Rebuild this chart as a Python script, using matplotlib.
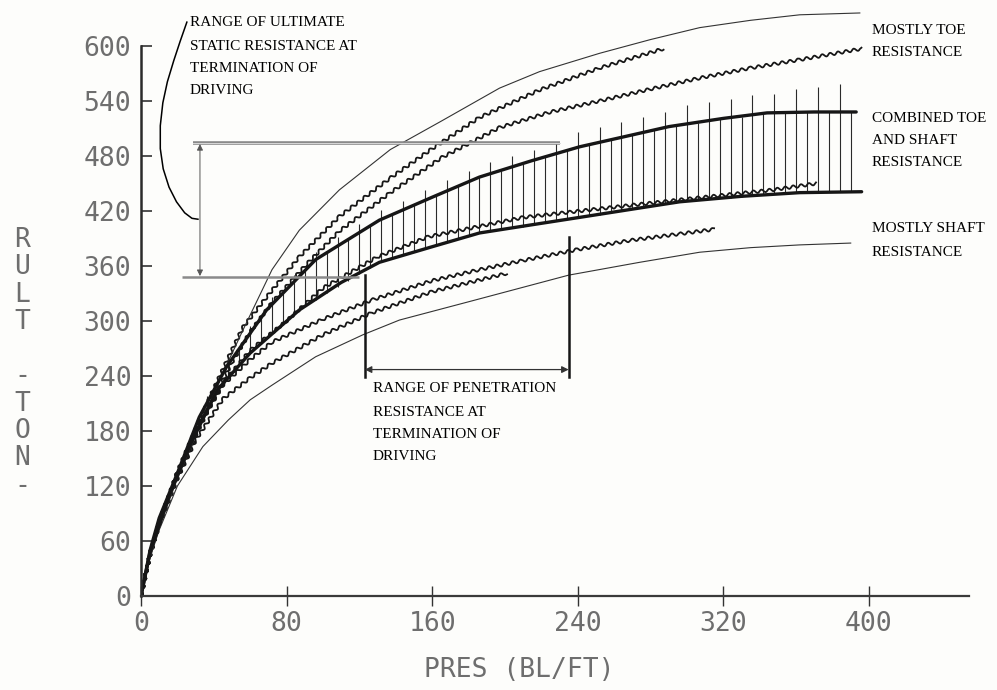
import matplotlib
matplotlib.use("Agg")
import matplotlib.pyplot as plt

# ---- data (PRES in BL/FT, RULT in TON) ----
# thin upper envelope
a_x = [0, 5, 10, 20, 30, 40, 48, 56, 64, 72, 87, 109, 137, 165, 197, 219, 252, 280, 307, 335, 362, 395]
a_y = [0, 42, 75, 128, 175, 221, 256, 290, 323, 356, 399, 443, 487, 518, 554, 572, 592, 607, 620, 628, 634, 636]
# stepped curves, mostly toe resistance
b_x = [0, 5, 10, 20, 30, 40, 48, 56, 69, 87, 109, 137, 160, 186, 219, 252, 287]
b_y = [0, 46, 80, 135, 182, 226, 260, 293, 326, 370, 414, 456, 488, 522, 552, 576, 597]
c_x = [0, 5, 10, 20, 30, 40, 50, 60, 72, 91, 109, 137, 165, 197, 225, 252, 280, 307, 335, 362, 396]
c_y = [0, 45, 78, 130, 175, 215, 255, 288, 320, 362, 398, 440, 478, 511, 528, 540, 553, 565, 576, 585, 597]
# combined toe and shaft band (thick curves)
d_x = [0, 5, 10, 20, 32, 47, 69, 96, 131, 160, 186, 215, 241, 270, 290, 320, 344, 370, 393]
d_y = [0, 50, 85, 134, 195, 250, 312, 367, 410, 435, 457, 475, 490, 503, 512, 521, 527, 528, 528]
e_x = [0, 5, 16, 27, 42, 60, 87, 110, 131, 160, 186, 215, 241, 270, 296, 330, 362, 396]
e_y = [0, 48, 112, 165, 225, 265, 312, 342, 364, 381, 396, 405, 413, 422, 430, 436, 440, 441]
# stepped curve inside the band
i_x = [0, 5, 10, 20, 30, 45, 60, 80, 100, 130, 158, 178, 210, 250, 300, 347, 371]
i_y = [0, 46, 80, 133, 180, 232, 268, 300, 336, 370, 392, 400, 413, 422, 433, 443, 450]
# stepped curves, mostly shaft resistance
f_x = [0, 5, 10, 20, 30, 45, 60, 72, 100, 127, 160, 186, 210, 240, 269, 296, 315]
f_y = [0, 46, 80, 135, 180, 230, 258, 277, 302, 323, 344, 356, 366, 378, 388, 395, 400]
g_x = [0, 5, 10, 20, 30, 45, 60, 72, 100, 127, 160, 201]
g_y = [0, 45, 78, 128, 170, 215, 238, 254, 285, 309, 332, 352]
# thin lower envelope
h_x = [0, 5, 10, 20, 34, 48, 60, 72, 96, 122, 142, 182, 235, 274, 307, 335, 362, 390]
h_y = [0, 42, 72, 120, 163, 192, 214, 230, 261, 285, 301, 322, 350, 364, 375, 380, 383, 385]

# vertical hatch lines of the combined band
hatch_x = [36, 42, 48, 54, 60, 66, 72, 78, 84, 90, 96, 102, 108, 114, 120, 126, 132, 138, 144, 150,
           156, 162, 168, 174, 180, 186, 192, 198, 204, 210, 216, 222, 228, 234, 240, 246, 252, 258,
           264, 270, 276, 282, 288, 294, 300, 306, 312, 318, 324, 330, 336, 342, 348, 354, 360, 366,
           372, 378, 384, 390]
hatch_lo = [203, 225, 238, 252, 265, 275, 286, 296, 307, 316, 323, 330, 337, 344, 351, 358, 364, 368,
            372, 375, 379, 382, 386, 389, 393, 396, 398, 400, 402, 403, 405, 407, 409, 411, 413, 415,
            416, 418, 420, 422, 424, 426, 428, 429, 431, 432, 433, 434, 434, 435, 436, 437, 438, 439,
            440, 440, 440, 441, 441, 441]
hatch_hi = [218, 232, 261, 270, 295, 304, 326, 330, 350, 355, 375, 374, 392, 389, 406, 404, 421, 416,
            431, 426, 443, 437, 454, 447, 464, 457, 473, 464, 480, 471, 487, 479, 494, 486, 506, 492,
            512, 498, 517, 503, 523, 508, 528, 513, 536, 516, 539, 520, 542, 523, 546, 526, 548, 527,
            553, 528, 555, 528, 558, 528]

# range markers
ult_top, ult_low = 494, 348
pen_left, pen_right = 123, 235

x_ticks = [0, 80, 160, 240, 320, 400]
y_ticks = [0, 60, 120, 180, 240, 300, 360, 420, 480, 540, 600]

W, H = 997, 690
ink = "#161616"
gray = "#6e6e6e"
mono = "DejaVu Sans Mono"
serif = "Liberation Serif"


def fxy(px, py):
    # figure fraction from picture pixels (origin top left)
    return px / W, 1 - py / H


fig = plt.figure(figsize=(W / 100, H / 100), dpi=100)
fig.patch.set_facecolor("#fdfdfb")
ax = fig.add_axes([141 / W, 1 - 596 / H, (969 - 141) / W, (596 - 9.3) / H])
ax.set_facecolor("none")
ax.set_xlim(0, 455)
ax.set_ylim(0, 640)

# hatch
ax.vlines(hatch_x, hatch_lo, hatch_hi, color="#2a2a2a", lw=0.8)

# plotter staircase curves: jagged stroke
for xs, ys in [(b_x, b_y), (c_x, c_y), (f_x, f_y), (g_x, g_y), (i_x, i_y)]:
    ln, = ax.plot(xs, ys, color=ink, lw=1.3)
    ln.set_sketch_params(scale=1.5, length=8, randomness=1)

ax.plot(a_x, a_y, color="#333333", lw=0.8)
ax.plot(h_x, h_y, color="#333333", lw=0.8)
ax.plot(d_x, d_y, color=ink, lw=2.4, solid_capstyle="round")
ax.plot(e_x, e_y, color=ink, lw=2.4, solid_capstyle="round")

# range of ultimate static resistance
ax.plot([28.5, 230], [ult_top, ult_top], color="#8a8a8a", lw=2.6, solid_capstyle="butt")
ax.plot([28.5, 230], [ult_top, ult_top], color="#d8d8d8", lw=0.7)
ax.plot([22.5, 120], [ult_low, ult_low], color="#8a8a8a", lw=1.8, solid_capstyle="butt")
ax.annotate("", xy=(32.4, ult_top - 1), xytext=(32.4, ult_low + 1),
            arrowprops=dict(arrowstyle="<|-|>", color="#555555", lw=0.7,
                            mutation_scale=9, shrinkA=0, shrinkB=0))

# range of penetration resistance
ax.plot([pen_left, pen_left], [239, 350], color=ink, lw=1.8)
ax.plot([pen_right, pen_right], [239, 392], color=ink, lw=1.8)
ax.annotate("", xy=(pen_left, 247), xytext=(pen_right, 247),
            arrowprops=dict(arrowstyle="<|-|>", color="#333333", lw=0.9,
                            mutation_scale=10, shrinkA=0, shrinkB=0))

# hand drawn bracket to the label
br_x = [25.2, 21.5, 18.0, 14.5, 12.0, 10.6, 10.6, 12.2, 15.4, 19.5, 24.0, 28.0, 31.3]
br_y = [626, 605, 584, 561, 538, 513, 488, 466, 446, 430, 418, 412, 411]
ax.plot(br_x, br_y, color="black", lw=1.1, clip_on=False)

# axes
for s in ["top", "right"]:
    ax.spines[s].set_visible(False)
ax.spines["left"].set_bounds(0, 600)
ax.spines["bottom"].set_bounds(0, 455)
ax.spines["left"].set_linewidth(1.8)
ax.spines["bottom"].set_linewidth(1.6)
ax.spines["left"].set_color("#2b2b2b")
ax.spines["bottom"].set_color("#3a3a3a")

ax.set_xticks(x_ticks)
ax.set_yticks(y_ticks)
ax.set_xticklabels([str(v) for v in x_ticks])
ax.set_yticklabels([str(v) for v in y_ticks])
ax.tick_params(axis="y", direction="in", length=8, width=1.2, color="#333333", pad=7)
ax.tick_params(axis="x", direction="inout", length=14, width=1.0, color="#333333", pad=4)
for lab in ax.get_xticklabels() + ax.get_yticklabels():
    lab.set_family(mono)
    lab.set_fontsize(19)
    lab.set_color(gray)

# axis titles in plotter lettering
for k, ch in enumerate("RULT -TON-"):
    fig.text(*fxy(22, 240 + k * 27.3), ch, family=mono, fontsize=19,
             color=gray, ha="center", va="center")
fig.text(*fxy(519, 670), "PRES (BL/FT)", family=mono, fontsize=19,
         color=gray, ha="center", va="center")

# annotation text
blocks = [
    (190, [23, 46, 68, 90], ["RANGE OF ULTIMATE", "STATIC RESISTANCE AT", "TERMINATION OF", "DRIVING"]),
    (373, [388, 412, 434, 456], ["RANGE OF PENETRATION", "RESISTANCE AT", "TERMINATION OF", "DRIVING"]),
    (872, [30, 52], ["MOSTLY TOE", "RESISTANCE"]),
    (872, [118, 141, 163], ["COMBINED TOE", "AND SHAFT", "RESISTANCE"]),
    (872, [229, 252], ["MOSTLY SHAFT", "RESISTANCE"]),
]
for px, pys, lines in blocks:
    for py, line in zip(pys, lines):
        fig.text(*fxy(px, py), line, family=serif, fontsize=11, color="black",
                 ha="left", va="center")

fig.savefig("out.png", dpi=100, facecolor=fig.get_facecolor())
